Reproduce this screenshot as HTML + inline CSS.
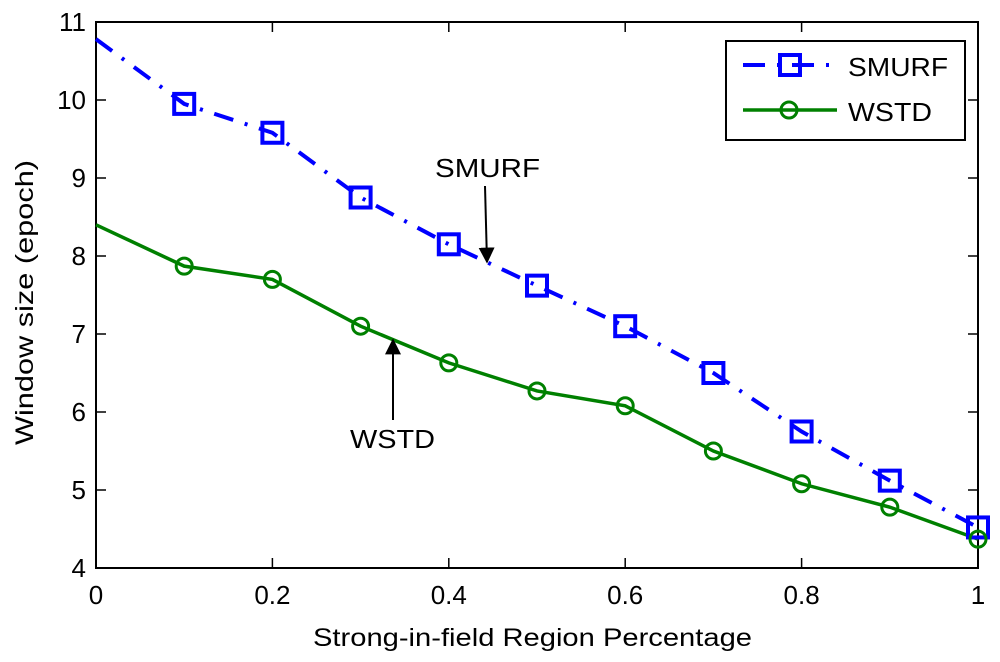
<!DOCTYPE html>
<html><head><meta charset="utf-8"><style>
body{margin:0;background:#fff}
svg{display:block}
text{font-family:"Liberation Sans",sans-serif;fill:#000}
</style></head><body>
<svg id="chart" width="1000" height="662" viewBox="0 0 1000 662" xmlns="http://www.w3.org/2000/svg">
<defs>
<marker id="ah" viewBox="0 0 10 10" refX="9" refY="5" markerWidth="8" markerHeight="8" orient="auto-start-reverse"><path d="M0,0 L10,5 L0,10 z" fill="#000"/></marker>
</defs>
<g id="plot"></g>
</svg>
<script>
const xValues=[0,0.1,0.2,0.3,0.4,0.5,0.6,0.7,0.8,0.9,1];
const smurfValues=[10.78,9.95,9.58,8.75,8.15,7.62,7.1,6.5,5.75,5.12,4.52];
const wstdValues=[8.4,7.87,7.7,7.1,6.63,6.27,6.08,5.5,5.08,4.78,4.37];
const xTicks=[0,0.2,0.4,0.6,0.8,1];
const xTickLabels=["0","0.2","0.4","0.6","0.8","1"];
const yTicks=[4,5,6,7,8,9,10,11];
const L=96,R=978,T=22,B=568;
const X=v=>L+(R-L)*v;
const Y=v=>B-(B-T)*(v-4)/7;
const NS="http://www.w3.org/2000/svg";
const g=document.getElementById('plot');
function mk(tag,attrs,parent){const e=document.createElementNS(NS,tag);for(const k in attrs)e.setAttribute(k,attrs[k]);(parent||g).appendChild(e);return e;}
let fr=mk('rect',{x:L,y:T,width:R-L,height:B-T,fill:'none',stroke:'#000','stroke-width':2});


xTicks.forEach((t,i)=>{
  let a=mk('line',{x1:X(t),x2:X(t),y1:B,y2:B-10,stroke:'#000','stroke-width':1.5});
  
  
  let b=mk('line',{x1:X(t),x2:X(t),y1:T,y2:T+10,stroke:'#000','stroke-width':1.5});
  
  
  let tx=mk('text',{x:X(t),y:B+36,'text-anchor':'middle','font-size':26});
  tx.textContent=xTickLabels[i];
  
  
});
yTicks.forEach(t=>{
  let a=mk('line',{x1:L,x2:L+10,y1:Y(t),y2:Y(t),stroke:'#000','stroke-width':1.5});
  
  
  let b=mk('line',{x1:R,x2:R-10,y1:Y(t),y2:Y(t),stroke:'#000','stroke-width':1.5});
  
  
  let tx=mk('text',{x:L-10,y:Y(t)+9,'text-anchor':'end','font-size':26});
  tx.textContent=String(t);
  
  
});
let xt=mk('text',{x:313,y:646,'font-size':25,textLength:439,lengthAdjust:'spacingAndGlyphs'});
xt.textContent='Strong-in-field Region Percentage';


let yt=mk('text',{x:0,y:0,'font-size':25,textLength:285,lengthAdjust:'spacingAndGlyphs',transform:'translate(33,445) rotate(-90)'});
yt.textContent='Window size (epoch)';


const pts=a=>a.map((v,i)=>X(xValues[i])+','+Y(v)).join(' ');
let sl=mk('polyline',{points:pts(smurfValues),fill:'none',stroke:'#0000ff','stroke-width':4,'stroke-dasharray':'20,12,3,12'});


let wl=mk('polyline',{points:pts(wstdValues),fill:'none',stroke:'#008000','stroke-width':3.5});


smurfValues.forEach((v,i)=>{if(i===0)return;
  let m=mk('rect',{x:X(xValues[i])-10,y:Y(v)-10,width:20,height:20,fill:'none',stroke:'#0000ff','stroke-width':4});
  
  
});
wstdValues.forEach((v,i)=>{if(i===0)return;
  let m=mk('circle',{cx:X(xValues[i]),cy:Y(v),r:8,fill:'none',stroke:'#008000','stroke-width':3});
  
  
});
let a1=mk('text',{x:435,y:177,'font-size':26,textLength:105,lengthAdjust:'spacingAndGlyphs'});
a1.textContent='SMURF';


let ar1=mk('line',{x1:485,y1:186,x2:487,y2:262,stroke:'#000','stroke-width':2,'marker-end':'url(#ah)'});


let a2=mk('text',{x:350,y:448,'font-size':26,textLength:85,lengthAdjust:'spacingAndGlyphs'});
a2.textContent='WSTD';


let ar2=mk('line',{x1:393,y1:420,x2:393,y2:340,stroke:'#000','stroke-width':2,'marker-end':'url(#ah)'});


const lg=mk('g',{});


mk('rect',{x:726,y:41,width:239,height:99,fill:'#fff',stroke:'#000','stroke-width':2},lg);
let e1=mk('g',{},lg);


mk('line',{x1:743,x2:837,y1:65,y2:65,stroke:'#0000ff','stroke-width':4,'stroke-dasharray':'22,12,3,12'},e1);
mk('rect',{x:780,y:55,width:20,height:20,fill:'none',stroke:'#0000ff','stroke-width':4},e1);
let t1=mk('text',{x:848,y:76,'font-size':26,textLength:100,lengthAdjust:'spacingAndGlyphs'},e1);t1.textContent='SMURF';
let e2=mk('g',{},lg);


mk('line',{x1:743,x2:837,y1:110,y2:110,stroke:'#008000','stroke-width':3.5},e2);
mk('circle',{cx:789,cy:110,r:8,fill:'none',stroke:'#008000','stroke-width':3},e2);
let t2=mk('text',{x:848,y:121,'font-size':26,textLength:84,lengthAdjust:'spacingAndGlyphs'},e2);t2.textContent='WSTD';
</script>
</body></html>
